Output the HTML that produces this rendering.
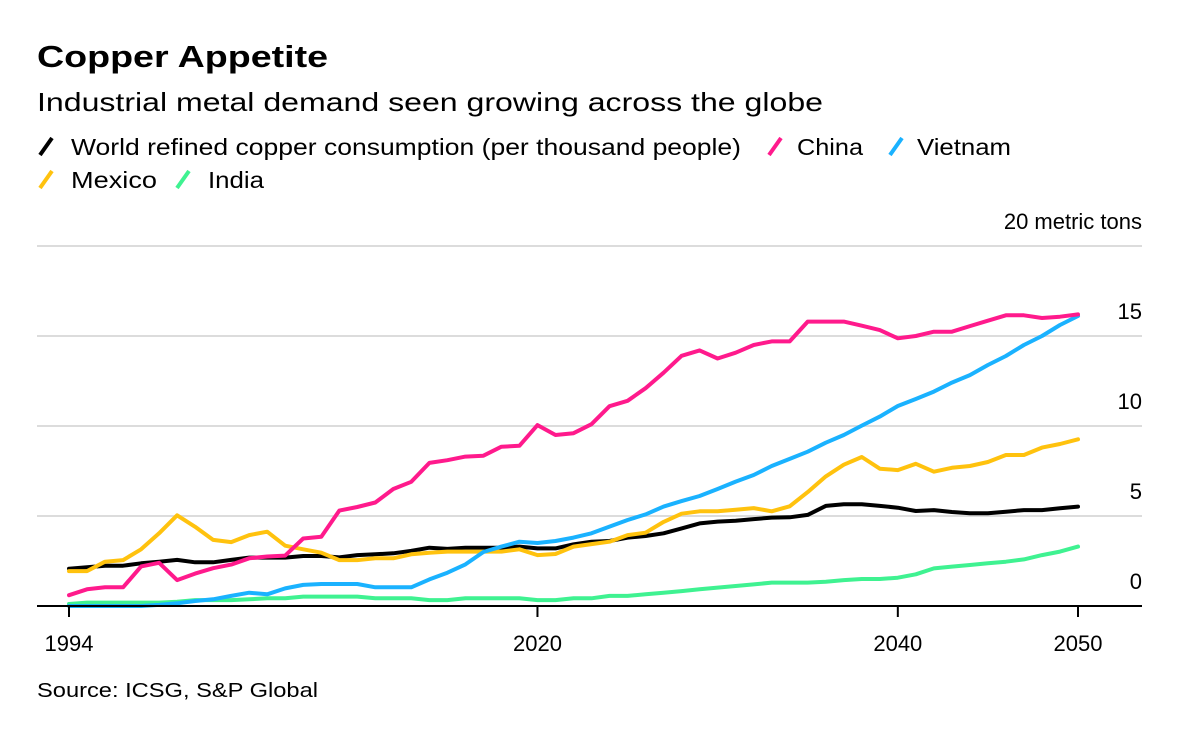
<!DOCTYPE html>
<html><head><meta charset="utf-8"><style>
html,body{margin:0;padding:0;background:#fff;}
svg{display:block;font-family:"Liberation Sans",Arial,sans-serif;}
</style></head><body>
<svg id="chart" width="1200" height="749" viewBox="0 0 1200 749">
<rect width="1200" height="749" fill="#fff"/>
<text x="37" y="67" font-size="31" font-weight="bold" textLength="291" lengthAdjust="spacingAndGlyphs">Copper Appetite</text>
<text x="37" y="111" font-size="26" textLength="786" lengthAdjust="spacingAndGlyphs">Industrial metal demand seen growing across the globe</text>
<g font-size="23">
 <g><line x1="40" y1="155" x2="52" y2="138" stroke="#000" stroke-width="4"/><text x="71" y="155" textLength="670" lengthAdjust="spacingAndGlyphs">World refined copper consumption (per thousand people)</text></g>
 <g><line x1="769" y1="155" x2="781" y2="138" stroke="#ff1a8c" stroke-width="4"/><text x="797" y="155" textLength="66" lengthAdjust="spacingAndGlyphs">China</text></g>
 <g><line x1="890" y1="155" x2="902" y2="138" stroke="#1ab2ff" stroke-width="4"/><text x="917" y="155" textLength="94" lengthAdjust="spacingAndGlyphs">Vietnam</text></g>
 <g><line x1="40" y1="188" x2="52" y2="171" stroke="#ffc20e" stroke-width="4"/><text x="71" y="188" textLength="86" lengthAdjust="spacingAndGlyphs">Mexico</text></g>
 <g><line x1="177" y1="188" x2="189" y2="171" stroke="#3ff291" stroke-width="4"/><text x="208" y="188" textLength="56" lengthAdjust="spacingAndGlyphs">India</text></g>
</g>
<g id="grid"></g>
<g id="series"></g>
<g id="xaxis"></g>
<text x="37" y="697" font-size="20" textLength="281" lengthAdjust="spacingAndGlyphs">Source: ICSG, S&amp;P Global</text>
</svg>
<script>
const years = [];
for (let y = 1994; y <= 2050; y++) years.push(y);
const world = [2.07,2.15,2.24,2.24,2.37,2.46,2.56,2.43,2.43,2.56,2.69,2.69,2.69,2.78,2.78,2.7,2.83,2.87,2.93,3.06,3.24,3.17,3.24,3.24,3.24,3.3,3.2,3.2,3.43,3.57,
 3.61,3.8,3.89,4.04,4.31,4.59,4.69,4.74,4.83,4.91,4.93,5.06,5.56,5.65,5.65,5.56,5.46,5.28,5.33,5.22,5.15,5.15,5.24,5.33,5.33,5.43,5.52];
const china = [0.6,0.93,1.04,1.04,2.2,2.4,1.44,1.8,2.1,2.3,2.65,2.75,2.8,3.75,3.85,5.3,5.5,5.75,6.5,6.9,7.95,8.1,8.3,8.35,8.85,8.9,10.05,9.5,9.6,10.1,
 11.1,11.4,12.1,12.96,13.9,14.2,13.75,14.07,14.5,14.7,14.7,15.8,15.8,15.8,15.57,15.33,14.87,15.0,15.24,15.24,15.55,15.85,16.15,16.15,16.0,16.07,16.2];
const vietnam = [0,0,0,0,0,0.06,0.15,0.28,0.37,0.56,0.74,0.65,0.98,1.17,1.22,1.22,1.22,1.04,1.04,1.04,1.48,1.85,2.31,3.0,3.3,3.57,3.5,3.61,3.8,4.04,
 4.41,4.78,5.09,5.52,5.83,6.11,6.5,6.91,7.28,7.78,8.17,8.57,9.07,9.5,10.02,10.52,11.11,11.5,11.91,12.41,12.83,13.39,13.89,14.5,15.0,15.61,16.11];
const mexico = [1.94,1.94,2.46,2.55,3.15,4.04,5.04,4.4,3.67,3.55,3.94,4.13,3.35,3.15,2.96,2.55,2.55,2.65,2.65,2.87,2.96,3.02,3.02,3.02,3.02,3.15,2.83,2.89,3.3,3.44,
 3.57,3.94,4.07,4.67,5.13,5.26,5.26,5.35,5.44,5.26,5.54,6.33,7.2,7.85,8.28,7.63,7.55,7.9,7.46,7.68,7.78,8.0,8.39,8.39,8.8,9.0,9.26];
const india = [0.11,0.19,0.19,0.19,0.19,0.19,0.24,0.33,0.33,0.33,0.37,0.43,0.43,0.52,0.52,0.52,0.52,0.43,0.43,0.43,0.33,0.33,0.43,0.43,0.43,0.43,0.33,0.33,0.43,0.43,
 0.56,0.56,0.65,0.74,0.83,0.93,1.02,1.11,1.2,1.3,1.3,1.3,1.35,1.44,1.5,1.5,1.57,1.76,2.09,2.19,2.28,2.37,2.46,2.59,2.83,3.02,3.3];
const yTicks = [0,5,10,15,20];
const xTicks = [1994,2020,2040,2050];

const NS = "http://www.w3.org/2000/svg";
const X = y => 69 + (y - 1994) * (1078 - 69) / 56;
const Y = v => 606 - v * 18;
function mk(tag, attrs, parent) {
  const e = document.createElementNS(NS, tag);
  for (const k in attrs) e.setAttribute(k, attrs[k]);
  parent.appendChild(e);
  return e;
}
const grid = document.getElementById('grid');
yTicks.forEach(t => {
  if (t > 0) {
    const l = mk('line', {x1: 37, x2: 1142, y1: Y(t), y2: Y(t), stroke: '#dcdcdc', 'stroke-width': 2}, grid);
    
    
  }
  const tx = mk('text', {x: 1142, y: Y(t) - 17, 'font-size': 22, 'text-anchor': 'end'}, grid);
  tx.textContent = t === 20 ? '20 metric tons' : String(t);
  
  
});
const series = document.getElementById('series');
const defs = [['india', india, '#3ff291'], ['world', world, '#000'], ['mexico', mexico, '#ffc20e'], ['vietnam', vietnam, '#1ab2ff'], ['china', china, '#ff1a8c']];
defs.forEach(([name, vals, col]) => {
  const d = vals.map((v, i) => (i ? 'L' : 'M') + X(years[i]).toFixed(1) + ',' + Y(v).toFixed(1)).join('');
  const p = mk('path', {d: d, fill: 'none', stroke: col, 'stroke-width': 4, 'stroke-linejoin': 'round', 'stroke-linecap': 'round'}, series);
  
  
});
const xa = document.getElementById('xaxis');
const base = mk('line', {x1: 37, x2: 1142, y1: 606, y2: 606, stroke: '#000', 'stroke-width': 2}, xa);


xTicks.forEach(t => {
  const tk = mk('line', {x1: X(t), x2: X(t), y1: 606, y2: 617, stroke: '#000', 'stroke-width': 2}, xa);
  
  
  const tx = mk('text', {x: X(t), y: 651, 'font-size': 22, 'text-anchor': 'middle'}, xa);
  tx.textContent = String(t);
  
  
});
</script>
</body></html>
